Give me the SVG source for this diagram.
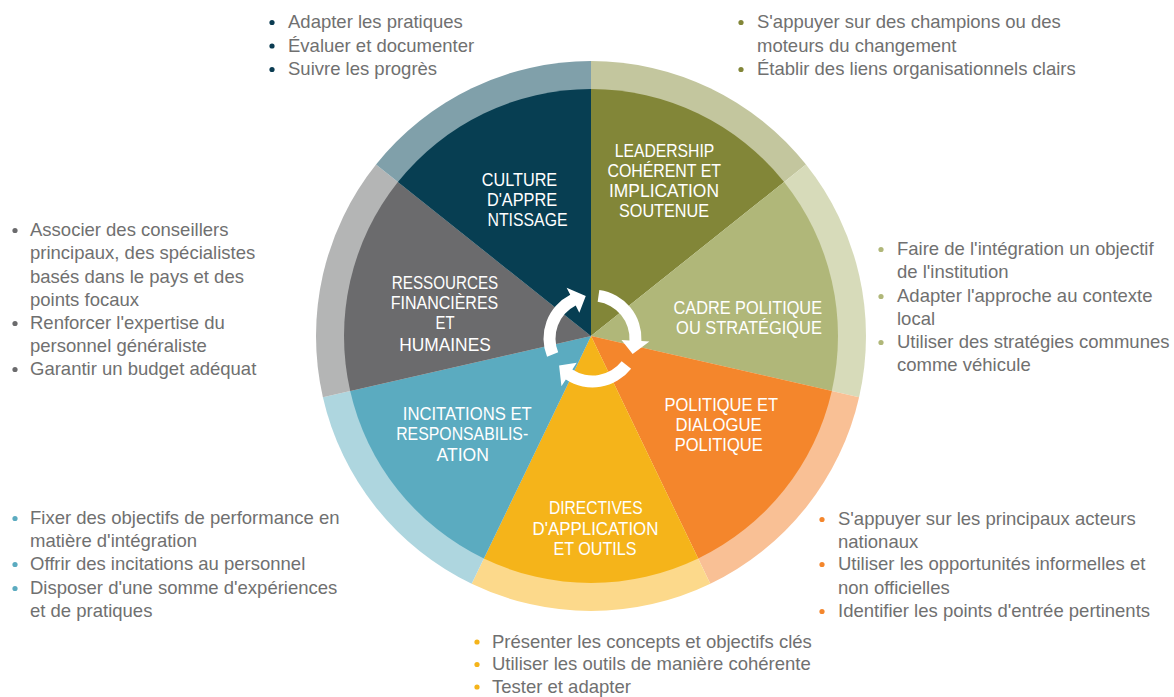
<svg xmlns="http://www.w3.org/2000/svg" width="1174" height="697" viewBox="0 0 1174 697">
<style>
.lbl{font-family:"Liberation Sans",Arial,sans-serif;font-size:18.5px;fill:#ffffff;text-anchor:middle}
.bt{font-family:"Liberation Sans",Arial,sans-serif;font-size:18.5px;fill:#707070}
.arrow{fill:#ffffff}
</style>
<rect width="1174" height="697" fill="#ffffff"/>

<g id="node-leadership">
<path d="M591,336 L591,61 A275,275 0 0 1 806.00,164.54 Z" fill="#c3c69e"/>
<path d="M591,336 L591,89 A247,247 0 0 1 784.10,182.00 Z" fill="#828638"/>
<text class="lbl" x="664.5" y="156.5" textLength="99.6" lengthAdjust="spacingAndGlyphs">LEADERSHIP</text>
<text class="lbl" x="664.2" y="176.5" textLength="113.5" lengthAdjust="spacingAndGlyphs">COHÉRENT ET</text>
<text class="lbl" x="664" y="196.5" textLength="110" lengthAdjust="spacingAndGlyphs">IMPLICATION</text>
<text class="lbl" x="664" y="217.3" textLength="90" lengthAdjust="spacingAndGlyphs">SOUTENUE</text>
<circle cx="741" cy="22.5" r="2.6" fill="#828638"/>
<circle cx="741" cy="69.5" r="2.6" fill="#828638"/>
<text class="bt" x="757" y="28">S'appuyer sur des champions ou des</text>
<text class="bt" x="757" y="51.5">moteurs du changement</text>
<text class="bt" x="757" y="75">Établir des liens organisationnels clairs</text>
</g>

<g id="node-cadre">
<path d="M591,336 L806.00,164.54 A275,275 0 0 1 859.10,397.19 Z" fill="#d7dbba"/>
<path d="M591,336 L784.10,182.00 A247,247 0 0 1 831.80,390.96 Z" fill="#b0b779"/>
<text class="lbl" x="747.8" y="314.4" textLength="148.4" lengthAdjust="spacingAndGlyphs">CADRE POLITIQUE</text>
<text class="lbl" x="749" y="334.4" textLength="145.8" lengthAdjust="spacingAndGlyphs">OU STRATÉGIQUE</text>
<circle cx="881" cy="249.5" r="2.6" fill="#b0b779"/>
<circle cx="881" cy="296.5" r="2.6" fill="#b0b779"/>
<circle cx="881" cy="342.5" r="2.6" fill="#b0b779"/>
<text class="bt" x="897" y="255">Faire de l'intégration un objectif</text>
<text class="bt" x="897" y="278">de l'institution</text>
<text class="bt" x="897" y="302">Adapter l'approche au contexte</text>
<text class="bt" x="897" y="325">local</text>
<text class="bt" x="897" y="348">Utiliser des stratégies communes</text>
<text class="bt" x="897" y="371">comme véhicule</text>
</g>

<g id="node-politique">
<path d="M591,336 L859.10,397.19 A275,275 0 0 1 710.32,583.78 Z" fill="#f9c095"/>
<path d="M591,336 L831.80,390.96 A247,247 0 0 1 698.17,558.55 Z" fill="#f4862c"/>
<text class="lbl" x="721.3" y="411" textLength="113.5" lengthAdjust="spacingAndGlyphs">POLITIQUE ET</text>
<text class="lbl" x="718.5" y="431" textLength="86.2" lengthAdjust="spacingAndGlyphs">DIALOGUE</text>
<text class="lbl" x="718.7" y="451" textLength="88" lengthAdjust="spacingAndGlyphs">POLITIQUE</text>
<circle cx="822" cy="519.5" r="2.6" fill="#f4862c"/>
<circle cx="822" cy="564.5" r="2.6" fill="#f4862c"/>
<circle cx="822" cy="611.5" r="2.6" fill="#f4862c"/>
<text class="bt" x="838" y="525">S'appuyer sur les principaux acteurs</text>
<text class="bt" x="838" y="548">nationaux</text>
<text class="bt" x="838" y="570">Utiliser les opportunités informelles et</text>
<text class="bt" x="838" y="594">non officielles</text>
<text class="bt" x="838" y="617">Identifier les points d'entrée pertinents</text>
</g>

<g id="node-directives">
<path d="M591,336 L710.32,583.78 A275,275 0 0 1 471.68,583.78 Z" fill="#fcd98b"/>
<path d="M591,336 L698.17,558.55 A247,247 0 0 1 483.83,558.55 Z" fill="#f5b41a"/>
<text class="lbl" x="595.8" y="514.4" textLength="93.8" lengthAdjust="spacingAndGlyphs">DIRECTIVES</text>
<text class="lbl" x="595.5" y="534.7" textLength="125.8" lengthAdjust="spacingAndGlyphs">D'APPLICATION</text>
<text class="lbl" x="595" y="554.7" textLength="83" lengthAdjust="spacingAndGlyphs">ET OUTILS</text>
<circle cx="477" cy="642" r="2.6" fill="#f5b41a"/>
<circle cx="477" cy="664.5" r="2.6" fill="#f5b41a"/>
<circle cx="477" cy="687" r="2.6" fill="#f5b41a"/>
<text class="bt" x="492" y="647.5">Présenter les concepts et objectifs clés</text>
<text class="bt" x="492" y="670">Utiliser les outils de manière cohérente</text>
<text class="bt" x="492" y="692.5">Tester et adapter</text>
</g>

<g id="node-incitations">
<path d="M591,336 L471.68,583.78 A275,275 0 0 1 322.90,397.19 Z" fill="#aed6df"/>
<path d="M591,336 L483.83,558.55 A247,247 0 0 1 350.20,390.96 Z" fill="#5babc0"/>
<text class="lbl" x="467.3" y="420.2" textLength="129" lengthAdjust="spacingAndGlyphs">INCITATIONS ET</text>
<text class="lbl" x="462.2" y="440.2" textLength="132" lengthAdjust="spacingAndGlyphs">RESPONSABILIS-</text>
<text class="lbl" x="462.7" y="461" textLength="52.4" lengthAdjust="spacingAndGlyphs">ATION</text>
<circle cx="15" cy="518.5" r="2.6" fill="#5babc0"/>
<circle cx="15" cy="564.5" r="2.6" fill="#5babc0"/>
<circle cx="15" cy="588.5" r="2.6" fill="#5babc0"/>
<text class="bt" x="30" y="524">Fixer des objectifs de performance en</text>
<text class="bt" x="30" y="547">matière d'intégration</text>
<text class="bt" x="30" y="570">Offrir des incitations au personnel</text>
<text class="bt" x="30" y="594">Disposer d'une somme d'expériences</text>
<text class="bt" x="30" y="617">et de pratiques</text>
</g>

<g id="node-ressources">
<path d="M591,336 L322.90,397.19 A275,275 0 0 1 376.00,164.54 Z" fill="#b4b5b5"/>
<path d="M591,336 L350.20,390.96 A247,247 0 0 1 397.90,182.00 Z" fill="#6b6b6d"/>
<text class="lbl" x="445" y="288.9" textLength="106.5" lengthAdjust="spacingAndGlyphs">RESSOURCES</text>
<text class="lbl" x="444.5" y="309.3" textLength="107.6" lengthAdjust="spacingAndGlyphs">FINANCIÈRES</text>
<text class="lbl" x="445" y="329.3" textLength="19" lengthAdjust="spacingAndGlyphs">ET</text>
<text class="lbl" x="445" y="351" textLength="91.6" lengthAdjust="spacingAndGlyphs">HUMAINES</text>
<circle cx="15" cy="230.5" r="2.6" fill="#6b6b6d"/>
<circle cx="15" cy="323.5" r="2.6" fill="#6b6b6d"/>
<circle cx="15" cy="369.5" r="2.6" fill="#6b6b6d"/>
<text class="bt" x="30" y="236">Associer des conseillers</text>
<text class="bt" x="30" y="259">principaux, des spécialistes</text>
<text class="bt" x="30" y="283">basés dans le pays et des</text>
<text class="bt" x="30" y="306">points focaux</text>
<text class="bt" x="30" y="329">Renforcer l'expertise du</text>
<text class="bt" x="30" y="352">personnel généraliste</text>
<text class="bt" x="30" y="375">Garantir un budget adéquat</text>
</g>

<g id="node-culture">
<path d="M591,336 L376.00,164.54 A275,275 0 0 1 591,61 Z" fill="#80a0aa"/>
<path d="M591,336 L397.90,182.00 A247,247 0 0 1 591,89 Z" fill="#073e52"/>
<text class="lbl" x="519.5" y="185.6" textLength="75.3" lengthAdjust="spacingAndGlyphs">CULTURE</text>
<text class="lbl" x="522" y="205.6" textLength="70.2" lengthAdjust="spacingAndGlyphs">D'APPRE</text>
<text class="lbl" x="527.5" y="225.6" textLength="80" lengthAdjust="spacingAndGlyphs">NTISSAGE</text>
<circle cx="272" cy="22.5" r="2.6" fill="#0b3c52"/>
<circle cx="272" cy="46" r="2.6" fill="#0b3c52"/>
<circle cx="272" cy="69.5" r="2.6" fill="#0b3c52"/>
<text class="bt" x="288" y="28">Adapter les pratiques</text>
<text class="bt" x="288" y="51.5">Évaluer et documenter</text>
<text class="bt" x="288" y="75">Suivre les progrès</text>
</g>

<g id="connectors">
<path class="arrow" d="M547.07,356.86 A49,49 0 0 1 570.25,294.84 L566.62,287.71 L585.77,296.03 L579.33,312.66 L575.70,305.53 A37,37 0 0 0 558.19,352.36 Z"/>
<path class="arrow" d="M599.32,289.98 A49,49 0 0 1 641.43,341.06 L649.42,341.48 L632.64,353.91 L621.46,340.02 L629.45,340.44 A37,37 0 0 0 597.65,301.86 Z"/>
<path class="arrow" d="M631.11,368.67 A49,49 0 0 1 565.81,379.60 L561.46,386.31 L559.08,365.56 L576.71,362.82 L572.35,369.53 A37,37 0 0 0 621.66,361.28 Z"/>
</g>
</svg>
